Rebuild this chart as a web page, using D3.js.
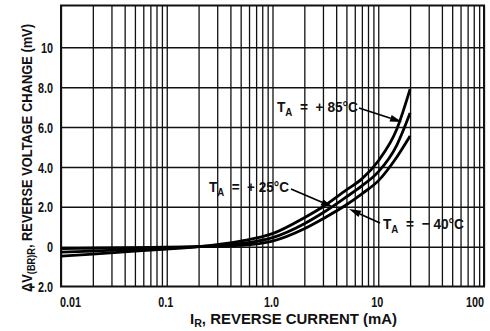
<!DOCTYPE html>
<html>
<head>
<meta charset="utf-8">
<script src="https://cdn.jsdelivr.net/npm/d3@7"></script>
<style>
  html, body { margin: 0; padding: 0; background: #fff; }
  svg { display: block; }
  text { font-family: "Liberation Sans", Arial, sans-serif; fill: #111; font-weight: bold; }
</style>
</head>
<body>
<svg id="chart" width="490" height="331"></svg>
<script>
// Reverse current (mA), log axis
const currents = [0.01, 0.02, 0.05, 0.1, 0.2, 0.5, 1, 2, 3, 5, 7, 10, 15, 20];
// Reverse voltage change (mV) per ambient temperature
const dv85 = [-0.48, -0.38, -0.22, -0.12, 0.0, 0.28, 0.65, 1.45, 2.0, 2.85, 3.4, 4.3, 5.9, 7.9];
const dv25 = [-0.28, -0.22, -0.13, -0.07, 0.0, 0.15, 0.45, 1.15, 1.7, 2.5, 3.05, 3.75, 5.1, 6.7];
const dvM40 = [-0.10, -0.08, -0.05, -0.03, 0.0, 0.07, 0.28, 0.9, 1.4, 2.1, 2.65, 3.3, 4.5, 5.55];

const xTicks = [0.01, 0.1, 1, 10, 100];
const xTickLabels = ["0.01", "0.1", "1.0", "10", "100"];
const yTicks = [-2, 0, 2, 4, 6, 8, 10];
const yTickLabels = ["\u2212 2.0", "0", "2.0", "4.0", "6.0", "8.0", "10"];

const svg = d3.select("#chart");
const pL = 61, pR = 484, pT = 5.5, pB = 286.5;

const x = d3.scaleLog().domain([0.01, 100]).range([pL, pR]);
const y = d3.scaleLinear().domain([-2, 12.1]).range([pB, pT]);

// squeeze text horizontally to a narrow face
function condense(sel, k) {
  sel.each(function () {
    const w = this.getComputedTextLength();
    d3.select(this).attr("textLength", w * k).attr("lengthAdjust", "spacingAndGlyphs");
  });
}

// minor + major vertical grid: 1..9 in every decade
const gridX = [];
for (let d = 0.01; d < 100; d *= 10) {
  for (let k = 1; k <= 9; k++) gridX.push(+(d * k).toPrecision(3));
}
gridX.push(100);

const grid = svg.append("g");
grid.append("g")
  .attr("transform", `translate(0,${pB})`)
  .call(d3.axisBottom(x).tickValues(gridX).tickSize(-(pB - pT)).tickFormat(""))
  .call(g => g.select(".domain").remove())
  .call(g => g.selectAll("line").attr("stroke", "#111").attr("stroke-width", 1.3));

grid.append("g")
  .attr("transform", `translate(${pL},0)`)
  .call(d3.axisLeft(y).tickValues([0, 2, 4, 6, 8, 10]).tickSize(-(pR - pL)).tickFormat(""))
  .call(g => g.select(".domain").remove())
  .call(g => g.selectAll("line").attr("stroke", "#111").attr("stroke-width", 1.5));

// frame
svg.append("rect")
  .attr("x", pL).attr("y", pT)
  .attr("width", pR - pL).attr("height", pB - pT)
  .attr("fill", "none").attr("stroke", "#111").attr("stroke-width", 2);

// tick labels
const lastX = xTicks.length - 1;
svg.append("g").selectAll("text")
  .data(xTicks)
  .join("text")
  .attr("x", (d, i) => i === 0 ? x(d) - 1 : i === lastX ? x(d) : x(d) - 1)
  .attr("y", 307)
  .attr("text-anchor", (d, i) => i === 0 ? "start" : i === lastX ? "end" : "middle")
  .attr("font-size", 15)
  .text((d, i) => xTickLabels[i])
  .call(condense, 0.72);

svg.append("g").selectAll("text")
  .data(yTicks)
  .join("text")
  .attr("x", 53)
  .attr("y", d => y(d) + 5.6)
  .attr("text-anchor", "end")
  .attr("font-size", 15)
  .text((d, i) => yTickLabels[i])
  .call(condense, 0.72);

// axis titles
const xt = svg.append("text")
  .attr("x", 190).attr("y", 324)
  .attr("font-size", 14)
  .attr("textLength", 207).attr("lengthAdjust", "spacingAndGlyphs");
xt.append("tspan").text("I");
xt.append("tspan").attr("font-size", 10).attr("dy", 3).text("R");
xt.append("tspan").attr("dy", -3).text(", REVERSE CURRENT (mA)");

const yt = svg.append("text")
  .attr("transform", "translate(32,292) rotate(-90)")
  .attr("font-size", 14)
  .attr("textLength", 268).attr("lengthAdjust", "spacingAndGlyphs");
yt.append("tspan").text("\u0394V");
yt.append("tspan").attr("font-size", 10).attr("dy", 3).text("(BR)R");
yt.append("tspan").attr("dy", -3).text(", REVERSE VOLTAGE CHANGE (mV)");

// curves
const line = d3.line()
  .x((d, i) => x(currents[i]))
  .y(d => y(d))
  .curve(d3.curveMonotoneX);

svg.append("g")
  .selectAll("path")
  .data([dv85, dv25, dvM40])
  .join("path")
  .attr("d", line)
  .attr("fill", "none")
  .attr("stroke", "#000")
  .attr("stroke-width", 2.8);

// annotations with arrows
function label(tx, ty, sign, temp, len) {
  const t = svg.append("text").attr("x", tx).attr("y", ty).attr("font-size", 15.5)
    .attr("textLength", len).attr("lengthAdjust", "spacingAndGlyphs")
    .style("white-space", "pre");
  t.append("tspan").text("T");
  t.append("tspan").attr("font-size", 11).attr("dy", 4).text("A");
  t.append("tspan").attr("dy", -4).text("  =  " + sign + " " + temp + "\u00B0C");
}
function arrow(x1, y1, x2, y2) {
  const ang = Math.atan2(y2 - y1, x2 - x1);
  const hl = 12, hw = 3.4;
  const bx = x2 - hl * Math.cos(ang), by = y2 - hl * Math.sin(ang);
  svg.append("line")
    .attr("x1", x1).attr("y1", y1).attr("x2", bx).attr("y2", by)
    .attr("stroke", "#000").attr("stroke-width", 1.7);
  const px = -Math.sin(ang) * hw, py = Math.cos(ang) * hw;
  svg.append("path")
    .attr("d", `M${x2},${y2}L${bx + px},${by + py}L${bx - px},${by - py}Z`)
    .attr("fill", "#000");
}

label(277, 112, "+", "85", 81);
arrow(359, 108, 402, 122);

label(209, 192, "+", "25", 80);
arrow(291, 189, 333, 207);

label(383, 229, "\u2212", "40", 81);
arrow(380, 223, 349, 209);
</script>
</body>
</html>
